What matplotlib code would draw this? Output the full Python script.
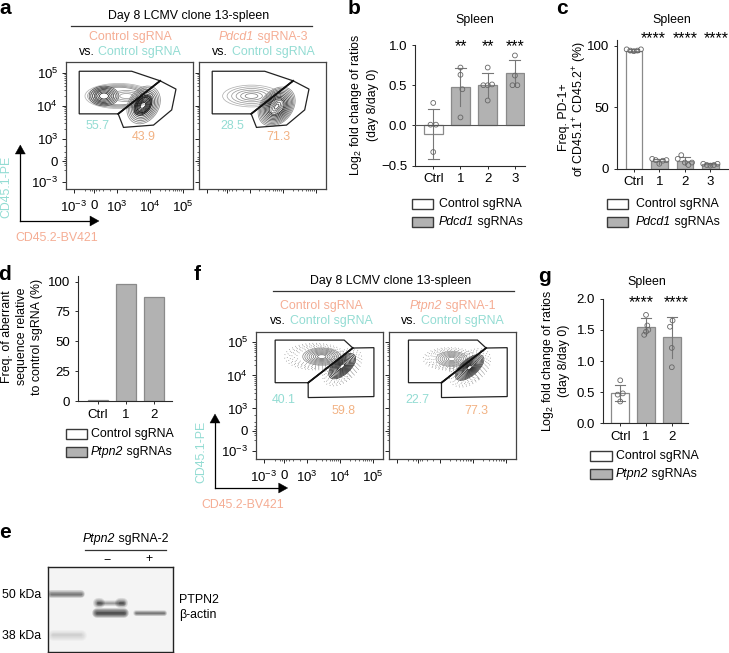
import numpy as np
import matplotlib
matplotlib.use('Agg')
import matplotlib.pyplot as plt
from matplotlib.patches import Ellipse, Polygon, Rectangle

plt.rcParams['font.family'] = ['Liberation Sans', 'DejaVu Sans']
plt.rcParams['mathtext.fontset'] = 'custom'
plt.rcParams['mathtext.rm'] = 'Liberation Sans'
plt.rcParams['mathtext.it'] = 'Liberation Sans:italic'
plt.rcParams['mathtext.bf'] = 'Liberation Sans:bold'
plt.rcParams['font.size'] = 9

W, H = 729, 653
SALMON = '#F5AD94'
TEAL = '#93DCD3'
ORANGE = '#F2B283'
DARK = '#2a2a2a'
BAR_GRAY = '#b2b2b2'
BAR_EDGE = '#8a8a8a'

# bar panels
b_labels = ['Ctrl', '1', '2', '3']
b_values = [-0.10, 0.48, 0.50, 0.65]
b_err_low = [-0.42, 0.24, 0.35, 0.49]
b_err_high = [0.20, 0.72, 0.65, 0.81]
b_points = [[0.28, 0.01, 0.01, -0.33], [0.72, 0.63, 0.45, 0.10],
            [0.72, 0.50, 0.50, 0.51, 0.31], [0.87, 0.62, 0.50, 0.50]]
b_jitter = [[0, -0.1, 0.1, 0], [0, 0, 0.07, 0], [0, -0.16, 0, 0.16, 0], [0, 0, -0.09, 0.09]]

c_labels = ['Ctrl', '1', '2', '3']
c_values = [96, 6, 6, 3.5]
c_err_low = [95, 4, 3, 2.5]
c_err_high = [97, 8, 9.5, 4.5]
c_points = [[97, 96, 95.5, 96, 97], [8, 7, 4, 6.5, 7], [8, 11, 5, 3, 5], [4, 3, 2.5, 3, 4]]
c_jitter = [[-0.28, -0.14, 0, 0.14, 0.28]] * 4

d_labels = ['Ctrl', '1', '2']
d_values = [0.5, 98, 87.5]

g_labels = ['Ctrl', '1', '2']
g_values = [0.48, 1.55, 1.38]
g_err_low = [0.35, 1.41, 1.05]
g_err_high = [0.61, 1.69, 1.71]
g_points = [[0.69, 0.48, 0.46, 0.35], [1.74, 1.57, 1.50, 1.47, 1.42], [1.65, 1.55, 1.21, 0.90]]
g_jitter = [[0, 0.1, -0.1, 0], [0, 0.05, 0.09, 0, -0.07], [0.03, -0.07, 0, 0]]

# flow plots, positions in biexponential decades
flow_tick_pos = [1.70, 2.33, 3, 4, 5]
flow_tick_labels = [r'$\mathregular{10^{-3}}$', '0', r'$\mathregular{10^{3}}$',
                    r'$\mathregular{10^{4}}$', r'$\mathregular{10^{5}}$']
gate_a_up = [(1.87, 5.05), (3.46, 5.05), (4.32, 4.76), (3.05, 3.76), (1.87, 3.76)]
gate_a_low = [(4.32, 4.76), (4.80, 4.51), (4.67, 3.88), (4.12, 3.42), (3.21, 3.35), (3.05, 3.76)]
gate_f_up = [(2.05, 5.07), (4.14, 5.07), (4.40, 4.83), (3.05, 3.78), (2.05, 3.78)]
gate_f_low = [(4.40, 4.83), (5.04, 4.84), (5.04, 3.36), (3.05, 3.33), (3.05, 3.78)]

# cx, cy, width, height, angle, rings, innermost fraction, gray start, gray end
blobs_a1 = [(3.07, 4.30, 2.05, 0.76, 0, 5, 0.70, 0.70, 0.50),
            (2.62, 4.30, 0.90, 0.60, 0, 7, 0.30, 0.35, 0.12),
            (3.30, 4.30, 0.90, 0.34, 0, 3, 0.45, 0.60, 0.60),
            (3.82, 4.03, 1.22, 0.92, 58, 8, 0.40, 0.55, 0.15),
            (3.80, 4.02, 0.68, 0.44, 52, 7, 0.30, 0.10, 0.05)]
blobs_a2 = [(3.06, 4.30, 1.75, 0.66, 0, 6, 0.22, 0.70, 0.50),
            (3.82, 3.98, 1.32, 0.96, 50, 10, 0.40, 0.55, 0.05),
            (3.82, 3.98, 0.60, 0.30, 50, 4, 0.30, 0.45, 0.30)]
blobs_f1 = [(3.46, 4.57, 1.15, 0.52, 0, 8, 0.22, 0.55, 0.40),
            (4.08, 4.28, 1.00, 0.50, 42, 10, 0.18, 0.22, 0.05)]
blobs_f2 = [(3.36, 4.50, 0.95, 0.46, 0, 7, 0.22, 0.60, 0.50),
            (3.90, 4.24, 1.05, 0.50, 40, 11, 0.18, 0.30, 0.05)]
halo_f1 = [(3.26, 4.57, 1.85, 0.80, 0), (4.08, 4.25, 1.40, 0.85, 42)]
halo_f2 = [(3.30, 4.50, 1.60, 0.68, 0), (3.91, 4.23, 1.45, 0.90, 40)]
halo_scale = [1.0, 0.91, 0.83, 0.76, 0.68, 0.60]

# western blot bands: x0, x1, y, thickness, strength (gel pixels)
bands = [(3, 33, 26.7, 3.6, 0.48), (50, 75, 36, 2.6, 0.30), (50, 52, 36, 4.6, 0.45),
         (72, 75, 36, 4.6, 0.45), (49, 76, 46, 4.4, 0.75), (88, 116, 45.5, 2.6, 0.50),
         (5, 33, 67.7, 5.0, 0.10)]


def box(x0, y0, x1, y1, **kw):
    return fig.add_axes([x0 / W, 1 - y1 / H, (x1 - x0) / W, (y1 - y0) / H], **kw)


def flow_plot(x0, y0, gate_up, gate_low, blobs, halos=(), show_labels=True):
    ax = box(x0, y0, x0 + 126.5, y0 + 127)
    ax.set_xlim(1.47, 5.30)
    ax.set_ylim(1.485, 5.33)
    for s in ax.spines.values():
        s.set_color('#444444')
        s.set_linewidth(0.9)
    for h in halos:
        for k in halo_scale:
            ax.add_patch(Ellipse(h[:2], h[2] * k, h[3] * k, angle=h[4], fill=False,
                                 ec='#666666', lw=0.7, ls=(0, (0.5, 3.1))))
    for cx, cy, w, h, ang, n, inner, g0, g1 in blobs:
        for frac, g in zip(np.linspace(1, inner, n), np.linspace(g0, g1, n)):
            ax.add_patch(Ellipse((cx, cy), w * frac, h * frac, angle=ang, fill=False,
                                 ec=str(g), lw=0.55))
    ax.add_patch(Polygon(gate_up, closed=True, fill=False, ec='#222222', lw=0.9))
    ax.add_patch(Polygon(gate_low, closed=True, fill=False, ec='#222222', lw=0.9))
    ax.plot([gate_up[2][0], gate_up[3][0]], [gate_up[2][1], gate_up[3][1]], color='#111111', lw=1.3)
    minor = [d + np.log10(m) for d in (3, 4) for m in range(2, 10)] + [5.0]
    ax.set_xticks(flow_tick_pos)
    ax.set_yticks(flow_tick_pos)
    ax.set_xticks(minor + [2.05, 2.2, 2.27, 2.39, 2.46, 2.6, 2.8], minor=True)
    ax.set_yticks(minor + [2.05, 2.2, 2.27, 2.39, 2.46, 2.6, 2.8], minor=True)
    ax.tick_params(which='major', length=2.6, width=0.7, labelsize=9.5, color='#222222')
    ax.tick_params(axis='x', which='major', pad=5.5)
    ax.tick_params(axis='y', which='major', pad=3)
    ax.tick_params(which='minor', length=1.3, width=0.5, color='#222222')
    if show_labels:
        ax.set_xticklabels(flow_tick_labels)
        ax.set_yticklabels(flow_tick_labels)
    else:
        ax.set_xticklabels([])
        ax.set_yticklabels([])
    return ax


def bar_plot(rect, xlim, ylim, yticks, labels, values, low=None, high=None,
             points=None, jitter=None, width=0.68, zero=False, ylabels=None):
    ax = box(*rect)
    xs = np.arange(len(values))
    colors = ['white'] + [BAR_GRAY] * (len(values) - 1)
    ax.bar(xs, values, width=width, color=colors, edgecolor=BAR_EDGE, lw=0.9, zorder=2)
    if low is not None:
        for i in xs:
            ax.plot([i, i], [low[i], high[i]], color='#777777', lw=0.8, zorder=3)
            ax.plot([i - 0.2, i + 0.2], [high[i]] * 2, color='#777777', lw=0.8, zorder=3)
            if low[i] < values[i] and i == 0:
                ax.plot([i - 0.2, i + 0.2], [low[i]] * 2, color='#777777', lw=0.8, zorder=3)
            ax.scatter(np.array(jitter[i]) + i, points[i], s=12, facecolor='none',
                       edgecolor='#666666', lw=0.6, zorder=4)
    ax.set_xlim(*xlim)
    ax.set_ylim(*ylim)
    ax.set_xticks(xs)
    ax.set_xticklabels(labels)
    ax.set_yticks(yticks)
    if ylabels is not None:
        ax.set_yticklabels(ylabels)
    ax.patch.set_alpha(0)
    ax.spines['top'].set_visible(False)
    ax.spines['right'].set_visible(False)
    ax.spines['left'].set_color(DARK)
    ax.spines['bottom'].set_color(DARK)
    ax.spines['left'].set_linewidth(0.8)
    ax.spines['bottom'].set_linewidth(0.8)
    ax.tick_params(length=2.5, width=0.7, pad=3, labelsize=9.5, color=DARK)
    if zero:
        ax.axhline(0, color='#555555', lw=0.8, zorder=5)
    return ax


def mixed(x, y, ital, rest, color='k', center=False):
    # italic gene name followed by upright text
    t1 = ov.text(x, y, ital, style='italic', color=color, ha='left', va='center', fontsize=fs)
    t2 = ov.text(x, y, ' ' + rest, color=color, ha='left', va='center', fontsize=fs)
    r = fig.canvas.get_renderer()
    w1 = t1.get_window_extent(r).width
    sp = ov.text(0, 0, ' ' + rest, fontsize=fs)
    w2 = t2.get_window_extent(r).width
    sp.remove()
    x0 = x - (w1 + w2) / 2 if center else x
    t1.set_x(x0)
    t2.set_x(x0 + w1)


def legend_pair(x0, x1, xt, y1, y2, name, h=10):
    for y, col in zip((y1, y2), ('white', BAR_GRAY)):
        ov.add_patch(Rectangle((x0, y - h / 2), x1 - x0, h, fc=col, ec='#3a3a3a', lw=1.0))
    ov.text(xt, y1, 'Control sgRNA', va='center', ha='left', fontsize=fs)
    mixed(xt, y2, name, 'sgRNAs')


def arrows(x, y_bottom, y_top, x_right):
    ov.plot([x, x], [y_bottom, y_top + 8], color='k', lw=0.9)
    ov.plot([x, x_right - 8], [y_bottom, y_bottom], color='k', lw=0.9)
    ov.add_patch(Polygon([(x - 5, y_top + 9), (x + 5, y_top + 9), (x, y_top)], fc='k', ec='k', lw=0.3))
    ov.add_patch(Polygon([(x_right - 9, y_bottom - 5), (x_right - 9, y_bottom + 5), (x_right, y_bottom)],
                         fc='k', ec='k', lw=0.3))


fig = plt.figure(figsize=(W / 100, H / 100), dpi=100)

# overlay in pixel units for the annotation text
ov = fig.add_axes([0, 0, 1, 1], zorder=10)
ov.set_xlim(0, W)
ov.set_ylim(H, 0)
ov.axis('off')
ov.patch.set_alpha(0)

# panels a and f
flow_plot(66, 62, gate_a_up, gate_a_low, blobs_a1)
flow_plot(199, 62, gate_a_up, gate_a_low, blobs_a2, show_labels=False)
flow_plot(256, 331.5, gate_f_up, gate_f_low, blobs_f1, halo_f1)
flow_plot(389.3, 331.5, gate_f_up, gate_f_low, blobs_f2, halo_f2, show_labels=False)

fs = 8.9
ov.text(189, 16, 'Day 8 LCMV clone 13-spleen', ha='center', va='center', fontsize=fs)
ov.plot([71, 312], [25.7, 25.7], color='#333333', lw=0.9)
ov.text(130, 37, 'Control sgRNA', color=SALMON, ha='center', va='center', fontsize=fs)
ov.text(79, 52, 'vs.', ha='left', va='center', fontsize=fs)
ov.text(98.5, 52, 'Control sgRNA', color=TEAL, ha='left', va='center', fontsize=fs)
mixed(263, 37, 'Pdcd1', 'sgRNA-3', color=SALMON, center=True)
ov.text(212, 52, 'vs.', ha='left', va='center', fontsize=fs)
ov.text(232, 52, 'Control sgRNA', color=TEAL, ha='left', va='center', fontsize=fs)
ov.text(97.3, 126, '55.7', color=TEAL, ha='center', va='center', fontsize=fs)
ov.text(143.3, 137.3, '43.9', color=ORANGE, ha='center', va='center', fontsize=fs)
ov.text(232.3, 126, '28.5', color=TEAL, ha='center', va='center', fontsize=fs)
ov.text(278, 137.3, '71.3', color=ORANGE, ha='center', va='center', fontsize=fs)
arrows(20.3, 221, 145, 99)
ov.text(6, 187, 'CD45.1-PE', color=TEAL, rotation=90, ha='center', va='center', fontsize=fs)
ov.text(57, 238, 'CD45.2-BV421', color=SALMON, ha='center', va='center', fontsize=fs)

ov.text(391, 280.7, 'Day 8 LCMV clone 13-spleen', ha='center', va='center', fontsize=fs)
ov.plot([273, 514], [290.7, 290.7], color='#333333', lw=0.9)
ov.text(321, 305.7, 'Control sgRNA', color=SALMON, ha='center', va='center', fontsize=fs)
ov.text(270, 321, 'vs.', ha='left', va='center', fontsize=fs)
ov.text(289.7, 321, 'Control sgRNA', color=TEAL, ha='left', va='center', fontsize=fs)
mixed(452.7, 305.7, 'Ptpn2', 'sgRNA-1', color=SALMON, center=True)
ov.text(401.3, 321, 'vs.', ha='left', va='center', fontsize=fs)
ov.text(421, 321, 'Control sgRNA', color=TEAL, ha='left', va='center', fontsize=fs)
ov.text(283.3, 400, '40.1', color=TEAL, ha='center', va='center', fontsize=fs)
ov.text(343.3, 410.7, '59.8', color=ORANGE, ha='center', va='center', fontsize=fs)
ov.text(417.3, 400, '22.7', color=TEAL, ha='center', va='center', fontsize=fs)
ov.text(476.7, 410.7, '77.3', color=ORANGE, ha='center', va='center', fontsize=fs)
arrows(215, 488, 414, 287.7)
ov.text(201, 452, 'CD45.1-PE', color=TEAL, rotation=90, ha='center', va='center', fontsize=fs)
ov.text(243, 505, 'CD45.2-BV421', color=SALMON, ha='center', va='center', fontsize=fs)

# panel b
bar_plot((415, 45, 525, 165.7), (-0.67, 3.37), (-0.5, 1.0), [-0.5, 0, 0.5, 1.0], b_labels, b_values,
         b_err_low, b_err_high, b_points, b_jitter, zero=True,
         ylabels=['\u22120.5', '0.0', '0.5', '1.0'])
ov.text(474.7, 20, 'Spleen', ha='center', va='center', fontsize=fs)
for x, s in zip((461, 488.3, 515), ('**', '**', '***')):
    ov.text(x, 47, s, ha='center', va='center', fontsize=11.5)
ov.text(356, 105, r'Log$_\mathregular{2}$ fold change of ratios', rotation=90, ha='center', va='center', fontsize=fs)
ov.text(373, 105, '(day 8/day 0)', rotation=90, ha='center', va='center', fontsize=fs)
legend_pair(412, 432.7, 439, 204, 222, 'Pdcd1')

# panel c
bar_plot((616.7, 40, 728, 168.7), (-0.67, 3.69), (0, 104.6), [0, 50, 100], c_labels, c_values,
         c_err_low, c_err_high, c_points, c_jitter, width=0.65)
ov.text(672, 20, 'Spleen', ha='center', va='center', fontsize=fs)
for x in (653.3, 685.7, 716.7):
    ov.text(x, 39, '****', ha='center', va='center', fontsize=11.5)
ov.text(564, 117, 'Freq. PD-1+', rotation=90, ha='center', va='center', fontsize=fs)
ov.text(580, 109, r'of CD45.1$^\mathregular{+}$ CD45.2$^\mathregular{+}$ (%)', rotation=90, ha='center', va='center', fontsize=fs)
legend_pair(607.3, 628.3, 636, 204, 222, 'Pdcd1')

# panel d
bar_plot((78, 276, 172.3, 401), (-0.7, 2.64), (0, 104.7), [0, 25, 50, 75, 100], d_labels, d_values, width=0.69)
ov.text(6.7, 336.7, 'Freq. of aberrant', rotation=90, ha='center', va='center', fontsize=fs)
ov.text(21.7, 336.7, 'sequence relative', rotation=90, ha='center', va='center', fontsize=fs)
ov.text(37.3, 336.7, 'to control sgRNA (%)', rotation=90, ha='center', va='center', fontsize=fs)
legend_pair(65.7, 86.7, 91, 433.7, 452, 'Ptpn2')

# panel g
bar_plot((602.7, 298.7, 688.3, 423.3), (-0.68, 2.64), (0, 2.0), [0, 0.5, 1.0, 1.5, 2.0], g_labels, g_values,
         g_err_low, g_err_high, g_points, g_jitter)
ov.text(646.7, 281.7, 'Spleen', ha='center', va='center', fontsize=fs)
for x in (641.7, 676):
    ov.text(x, 303, '****', ha='center', va='center', fontsize=11.5)
ov.text(548.3, 361, r'Log$_\mathregular{2}$ fold change of ratios', rotation=90, ha='center', va='center', fontsize=fs)
ov.text(564, 361, '(day 8/day 0)', rotation=90, ha='center', va='center', fontsize=fs)
legend_pair(590.3, 611.7, 616, 456.3, 473.7, 'Ptpn2')

# panel e, western blot
gel = box(47.7, 567.3, 172.7, 652.3)
gel.set_xlim(0, 125)
gel.set_ylim(85, 0)
gel.set_xticks([])
gel.set_yticks([])
gel.set_facecolor('#f4f4f4')
for s in gel.spines.values():
    s.set_color('#222222')
    s.set_linewidth(1.0)
for x0, x1, y, t, strength in bands:
    for k in (2.2, 1.8, 1.4, 1.0, 0.7, 0.4):
        gel.plot([x0, x1], [y, y], color='k', alpha=strength * 0.22, lw=t * k * 0.72,
                 solid_capstyle='round')
ov.text(2, 595, '50 kDa', ha='left', va='center', fontsize=fs)
ov.text(2, 635.7, '38 kDa', ha='left', va='center', fontsize=fs)
ov.text(179, 600, 'PTPN2', ha='left', va='center', fontsize=fs)
ov.text(179, 615, '\u03b2-actin', ha='left', va='center', fontsize=fs)
mixed(126, 539, 'Ptpn2', 'sgRNA-2', center=True)
ov.plot([85, 165.7], [550, 550], color='#333333', lw=0.9)
ov.text(106.7, 559, '\u2212', ha='center', va='center', fontsize=fs)
ov.text(149.3, 559, '+', ha='center', va='center', fontsize=fs)

# panel letters
panel_letters = {'a': (5, 9), 'b': (354, 9), 'c': (562, 9), 'd': (5, 275),
                 'e': (5, 532), 'f': (197, 275), 'g': (545, 276)}
for letter, (x, y) in panel_letters.items():
    ov.text(x, y, letter, fontsize=15, fontweight='bold', ha='center', va='center')

fig.savefig('out.png', dpi=100)
